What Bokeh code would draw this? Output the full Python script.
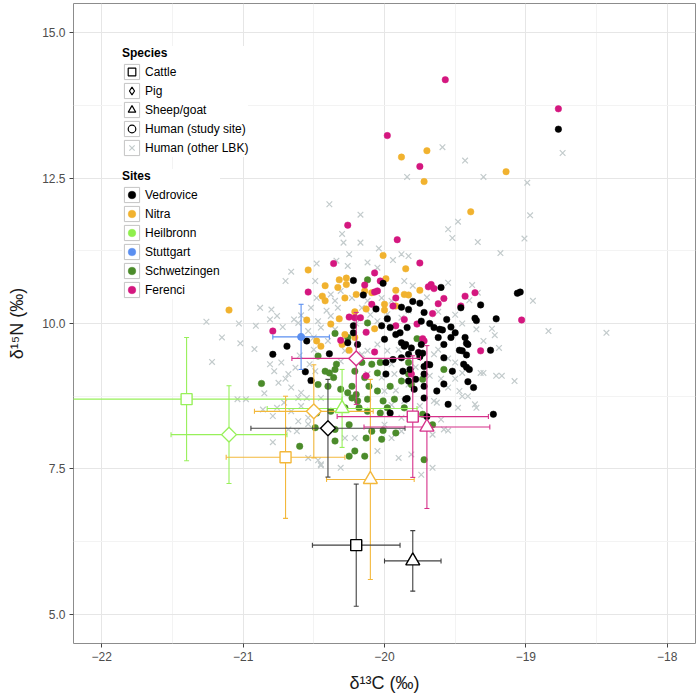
import numpy as np
from bokeh.plotting import figure
from bokeh.models import ColumnDataSource, FixedTicker, Legend, LegendItem, Range1d, NumeralTickFormatter
from bokeh.embed import file_html
from bokeh.resources import INLINE

# ---------------- data ----------------
VED_X = [-18.77, -19.60, -19.06, -19.04, -19.32, -19.46, -19.75, -19.80, -19.88, -19.21, -19.36, -19.35, -19.56,
         -19.72, -19.74, -19.68, -19.65, -19.61, -19.59, -19.53, -19.50, -19.58, -19.43, -19.42, -19.25, -19.47,
         -19.45, -19.42, -19.58, -19.73, -19.75, -19.44, -19.42, -19.40, -19.52, -19.68, -19.72, -19.72, -19.41,
         -19.37, -19.58, -19.63, -19.72, -19.72, -19.55, -19.23, -19.84, -19.83, -19.53, -20.22, -20.01, -20.15,
         -20.06, -20.22, -20.22, -19.98, -19.96, -20.02, -19.89, -19.84, -20.69, -20.79, -20.55, -20.56, -20.52,
         -20.39, -20.26, -20.19, -20.00, -19.92, -19.88, -19.86, -19.99, -19.94, -19.88, -19.83, -19.99, -19.87,
         -19.82, -19.96, -19.85, -19.81, -19.76, -19.74, -19.70, -19.78, -19.83, -19.79, -19.85, -19.41, -19.70,
         -19.62]
VED_Y = [13.34, 10.62, 10.52, 10.54, 10.32, 10.27, 10.35, 10.38, 10.28, 10.08, 10.09, 10.05, 10.07,
         10.19, 10.04, 10.00, 9.93, 9.90, 9.89, 9.94, 9.84, 9.64, 9.76, 9.66, 9.54, 9.54,
         9.53, 9.46, 9.41, 9.49, 9.43, 9.30, 9.25, 9.21, 9.18, 9.29, 9.26, 9.13, 9.00,
         8.90, 8.96, 8.84, 8.92, 8.72, 8.61, 8.44, 8.71, 10.24, 9.76, 10.74, 10.69, 10.49,
         10.25, 9.96, 9.84, 10.08, 9.93, 9.96, 9.84, 9.93, 9.61, 9.47, 9.70, 9.17, 9.02,
         9.48, 9.67, 9.64, 9.73, 9.81, 9.67, 9.61, 9.33, 9.38, 9.41, 9.47, 9.13, 9.18,
         9.21, 8.46, 9.64, 9.58, 9.50, 9.64, 9.30, 9.04, 9.01, 8.87, 8.70, 9.64, 8.40,
         9.76]

NIT_X = [-19.88, -19.70, -19.72, -19.14, -19.39, -20.01, -19.85, -19.75, -19.83, -19.92, -20.54, -21.10, -20.55,
         -20.32, -20.27, -20.33, -20.27, -20.42, -19.99, -20.44, -20.42, -20.20, -20.14, -20.09, -19.86, -20.28,
         -20.00, -19.92, -20.13, -20.21, -20.00, -20.32, -20.07, -20.28, -20.38, -20.45, -20.48, -20.25, -20.21,
         -20.30]
NIT_Y = [12.86, 12.97, 12.44, 12.61, 11.92, 11.17, 10.94, 10.57, 10.49, 10.57, 10.92, 10.23, 10.06,
         10.75, 10.78, 10.62, 10.67, 10.65, 10.77, 10.47, 10.39, 10.50, 10.56, 10.53, 10.50, 10.44,
         10.33, 10.30, 10.25, 10.20, 10.23, 10.08, 9.91, 9.81, 9.99, 9.61, 9.70, 9.54, 9.76,
         9.64]

FER_X = [-19.57, -18.77, -19.98, -19.75, -19.91, -19.75, -19.69, -19.67, -19.65, -19.36, -19.43, -19.46, -19.58,
         -19.62, -19.92, -19.94, -19.03, -19.66, -19.72, -19.32, -20.26, -20.54, -20.79, -20.36, -20.07, -20.14,
         -20.03, -20.07, -20.05, -20.09, -20.25, -20.21, -20.17, -20.13, -19.92, -19.77, -19.86, -19.73, -20.31,
         -20.07, -20.13, -19.81]
FER_Y = [14.19, 13.69, 13.23, 12.70, 11.44, 11.04, 10.63, 10.67, 10.60, 10.53, 10.47, 10.30, 10.43,
         10.34, 10.44, 10.30, 10.06, 10.17, 9.70, 9.53, 11.69, 10.54, 9.87, 11.03, 10.87, 10.66,
         10.73, 10.54, 10.56, 10.33, 10.11, 10.10, 10.10, 9.85, 9.96, 9.99, 10.07, 9.74, 9.71,
         9.51, 9.10, 9.13]

SCH_X = [-19.58, -20.87, -20.60, -20.12, -20.12, -20.35, -20.26, -19.77, -20.47, -20.42, -20.39, -20.35, -20.36,
         -20.34, -20.21, -20.16, -20.09, -20.03, -20.05, -20.14, -20.23, -20.11, -20.05, -19.96, -19.88, -20.47,
         -20.40, -20.31, -20.26, -20.20, -20.12, -20.01, -19.93, -20.19, -20.23, -20.48, -20.38, -20.28, -20.12,
         -20.03, -20.35, -20.25, -20.49, -20.09, -20.02, -20.13, -20.21, -20.14, -20.25, -20.35, -20.18, -19.98,
         -19.83, -19.83, -19.81, -19.73, -19.86, -19.73, -19.66, -19.72, -19.92, -20.01]
SCH_Y = [9.21, 8.97, 7.89, 10.75, 10.01, 9.83, 9.76, 9.74, 9.44, 9.18, 9.15, 9.21, 9.07,
         9.30, 9.18, 9.33, 9.30, 9.33, 9.15, 9.07, 8.92, 8.92, 8.84, 8.92, 9.01, 8.95,
         8.92, 8.87, 8.81, 8.78, 8.70, 8.67, 8.70, 8.67, 8.72, 8.46, 8.49, 8.55, 8.49,
         8.46, 8.18, 8.26, 8.21, 8.15, 8.01, 8.03, 7.81, 7.72, 7.72, 7.98, 8.55, 8.55,
         9.33, 9.13, 8.95, 9.04, 8.55, 8.44, 8.26, 7.66, 8.12, 8.16]

LBK_X = [-18.74, -19.59, -19.84, -19.43, -19.30, -18.99, -18.97, -19.48, -19.55, -19.52, -19.34, -19.01, -19.18,
         -19.94, -19.88, -19.83, -19.38, -18.95, -18.84, -18.43, -19.24, -19.22, -19.19, -19.30, -19.21, -19.17,
         -19.08, -19.36, -19.48, -19.45, -19.65, -19.60, -19.55,
         -20.66, -20.70, -20.88, -20.80, -20.81, -20.76, -20.91, -21.03, -21.26, -21.15, -20.72, -20.64, -20.59,
         -20.61, -21.02, -21.22, -20.92, -21.04, -20.98, -20.79, -20.47, -20.45,
         -20.81, -20.78, -20.73, -20.68, -20.63, -20.75, -20.66, -20.59, -20.61, -20.71, -20.79, -20.76, -20.66,
         -20.59, -20.68, -20.62, -20.61, -20.54, -20.86,
         -20.39, -20.17, -20.30, -20.29, -20.17, -20.25, -20.04, -20.48, -20.34, -20.26, -20.12, -20.05,
         -20.49, -20.48, -20.38, -20.35, -20.52, -20.41, -20.33, -20.47, -20.38, -20.45, -20.12, -20.02, -19.95,
         -19.86, -19.83, -19.98, -20.05, -19.88, -20.54, -20.50, -20.23, -20.16, -20.31, -19.34,
         -20.52, -20.55, -20.54, -20.45, -20.28, -20.21, -19.95, -19.88, -20.05, -19.90, -20.45, -20.31, -20.54,
         -20.00, -19.88, -19.86, -19.95, -19.83, -20.00, -20.53, -20.49, -20.02, -20.28, -20.16, -20.12, -20.05,
         -19.98, -20.12, -20.31, -19.93,
         -19.65, -19.50, -19.32, -19.47, -19.41, -19.35, -19.63, -19.66, -19.58, -19.81, -19.66, -19.74,
         -19.62, -19.55, -19.68, -19.60, -19.50, -19.45, -19.55, -19.90, -19.78, -19.92, -19.75, -19.95, -19.62,
         -19.50, -19.45, -19.70, -19.80, -19.55, -19.40, -19.35, -19.30, -20.20, -20.10, -20.35, -20.40, -20.60,
         -20.50, -20.70, -20.85]
LBK_Y = [12.93, 13.03, 12.52, 12.80, 12.52, 12.42, 11.86, 11.75, 11.62, 11.47, 11.40, 11.46, 11.21,
         11.09, 11.19, 11.16, 10.66, 10.39, 9.87, 9.84, 9.91, 9.80, 9.58, 9.15, 9.10, 9.10,
         9.01, 8.61, 8.55, 8.75, 8.67, 8.35, 8.16,
         10.89, 10.73, 10.27, 10.24, 10.07, 10.13, 9.96, 10.00, 10.03, 9.76, 9.94, 10.07, 10.14,
         10.01, 9.66, 9.34, 9.56, 8.70, 8.70, 7.96, 7.65, 7.56,
         9.30, 9.18, 9.33, 9.13, 9.24, 8.98, 8.90, 8.81, 8.72, 8.64, 8.41, 8.55, 8.49,
         8.58, 8.18, 8.15, 8.32, 8.27, 8.52,
         12.05, 11.87, 11.54, 11.39, 11.39, 11.19, 11.29, 11.03, 11.08, 10.99, 11.05, 10.96,
         10.73, 10.44, 10.50, 10.39, 10.27, 10.22, 10.27, 10.04, 10.13, 9.93, 10.39, 10.44, 10.39,
         10.73, 10.22, 10.16, 10.04, 10.10, 9.87, 9.76, 10.44, 10.27, 10.56, 10.53,
         9.01, 8.72, 8.38, 8.72, 8.03, 8.03, 8.03, 8.15, 7.81, 7.69, 7.58, 7.52, 7.69,
         8.26, 8.38, 8.67, 9.30, 8.95, 8.84, 9.30, 9.18, 9.07, 9.53, 9.47, 9.53, 9.64,
         9.53, 9.13, 9.35, 9.13,
         9.47, 9.33, 9.15, 8.84, 8.75, 8.55, 8.64, 8.09, 8.18, 7.75, 7.52, 7.40,
         9.55, 9.40, 9.10, 9.05, 9.05, 9.15, 8.90, 9.55, 9.25, 8.85, 8.58, 8.60, 10.20,
         10.15, 10.00, 10.45, 10.65, 10.70, 10.40, 9.90, 9.70, 10.00, 10.15, 9.90, 9.70, 9.45,
         9.55, 9.05, 8.80]

# animal means (mean +/- sd) per site and species
AM_SITE = ["Heilbronn", "Heilbronn", "Heilbronn", "Nitra", "Nitra", "Nitra",
           "Vedrovice", "Vedrovice", "Vedrovice", "Ferenci", "Ferenci", "Ferenci"]
AM_SPECIES = ["Cattle", "Pig", "Sheep/goat"] * 4
AM_X = [-21.40, -21.10, -20.30, -20.70, -20.50, -20.10, -20.20, -20.40, -19.80, -19.80, -20.20, -19.70]
AM_Y = [8.70, 8.09, 8.54, 7.70, 8.49, 7.32, 6.19, 8.20, 5.92, 8.40, 9.40, 8.22]
AM_XSD = [1.10, 0.41, 0.53, 0.42, 0.42, 0.31, 0.31, 0.545, 0.20, 0.535, 0.455, 0.445]
AM_YSD = [1.06, 0.84, 0.67, 1.05, 0.80, 1.72, 1.05, 0.84, 0.52, 1.045, 0.79, 1.40]

# Stuttgart human mean
STU_X = [-20.59]
STU_Y = [9.77]
STU_XSD = [0.20]
STU_YSD = [0.56]

SITES = ["Vedrovice", "Nitra", "Heilbronn", "Stuttgart", "Schwetzingen", "Ferenci"]
SITE_COLORS = {"Vedrovice": "#000000", "Nitra": "#F1B22F", "Heilbronn": "#8FEF4C",
               "Stuttgart": "#5B8FF0", "Schwetzingen": "#4B8B2A", "Ferenci": "#D4177F"}
BAR_COLORS = {"Vedrovice": "#404040", "Nitra": "#F3B83C", "Heilbronn": "#97F05A",
              "Stuttgart": "#5B8FF0", "Schwetzingen": "#4B8B2A", "Ferenci": "#D6308A"}
SPECIES_MARKERS = {"Cattle": "square", "Pig": "square", "Sheep/goat": "triangle"}
SPECIES_ANGLES = {"Cattle": 0.0, "Pig": np.pi / 4, "Sheep/goat": 0.0}
SPECIES_SIZES = {"Cattle": 11, "Pig": 10.5, "Sheep/goat": 14}
GREY = "#C3CBCC"
FONT = "Liberation Sans"

# ---------------- figure ----------------
p = figure(width=700, height=697, output_backend="svg", toolbar_location=None,
           x_range=Range1d(-22.2, -17.8), y_range=Range1d(4.5, 15.5),
           min_border_left=73, min_border_right=5, min_border_top=3, min_border_bottom=54)
p.background_fill_color = "white"
p.border_fill_color = "white"
p.outline_line_color = "#8c8c8c"
p.outline_line_width = 1

p.xaxis.ticker = FixedTicker(ticks=[-22, -21, -20, -19, -18], minor_ticks=[-21.5, -20.5, -19.5, -18.5])
p.yaxis.ticker = FixedTicker(ticks=[5, 7.5, 10, 12.5, 15], minor_ticks=[6.25, 8.75, 11.25, 13.75])
p.xaxis.major_label_overrides = {-22: "\u221222", -21: "\u221221", -20: "\u221220", -19: "\u221219", -18: "\u221218"}
p.yaxis.formatter = NumeralTickFormatter(format="0.0")
for g in (p.xgrid, p.ygrid):
    g.grid_line_color = "#e6e6e6"
    g.grid_line_width = 1
    g.minor_grid_line_color = "#f3f3f3"
    g.minor_grid_line_width = 1

p.axis.axis_line_color = None
p.axis.major_tick_line_color = "#444444"
p.axis.major_tick_out = 4
p.axis.major_tick_in = 0
p.axis.minor_tick_line_color = None
p.axis.major_label_text_font = FONT
p.axis.major_label_text_font_size = "12px"
p.axis.major_label_text_color = "#4d4d4d"
p.axis.major_label_standoff = 4
p.axis.axis_label_text_font = FONT
p.axis.axis_label_text_font_size = "18px"
p.axis.axis_label_text_font_style = "normal"
p.axis.axis_label_text_color = "#1a1a1a"
p.xaxis.axis_label = "\u03b4\u00b9\u00b3C (\u2030)"
p.yaxis.axis_label = "\u03b4\u00b9\u2075N (\u2030)"
p.xaxis.axis_label_standoff = 9
p.yaxis.axis_label_standoff = 12

# other LBK humans
p.scatter(LBK_X, LBK_Y, marker="x", size=8, line_color=GREY, line_width=1.2)

# study-site humans
site_data = {"Vedrovice": (VED_X, VED_Y), "Nitra": (NIT_X, NIT_Y),
             "Schwetzingen": (SCH_X, SCH_Y), "Ferenci": (FER_X, FER_Y)}
for s in ["Schwetzingen", "Nitra", "Ferenci", "Vedrovice"]:
    xs, ys = site_data[s]
    p.scatter(xs, ys, marker="circle", size=6.5, fill_color=SITE_COLORS[s], line_color=SITE_COLORS[s], line_width=0.5)

# error bars
def error_bars(xs, ys, xsd, ysd, color):
    xs = np.array(xs); ys = np.array(ys); xsd = np.array(xsd); ysd = np.array(ysd)
    p.segment(xs, ys - ysd, xs, ys + ysd, line_color=color, line_width=1.1)
    p.segment(xs - xsd, ys, xs + xsd, ys, line_color=color, line_width=1.1)
    p.scatter(np.concatenate([xs, xs]), np.concatenate([ys - ysd, ys + ysd]), marker="dash", size=5,
              line_color=color, line_width=1.1)
    p.scatter(np.concatenate([xs - xsd, xs + xsd]), np.concatenate([ys, ys]), marker="dash", size=5,
              angle=np.pi / 2, line_color=color, line_width=1.1)

for s in ["Heilbronn", "Nitra", "Vedrovice", "Ferenci"]:
    idx = [i for i, v in enumerate(AM_SITE) if v == s]
    error_bars([AM_X[i] for i in idx], [AM_Y[i] for i in idx], [AM_XSD[i] for i in idx],
               [AM_YSD[i] for i in idx], BAR_COLORS[s])
error_bars(STU_X, STU_Y, STU_XSD, STU_YSD, BAR_COLORS["Stuttgart"])

# animal means markers
for i in range(len(AM_X)):
    sp = AM_SPECIES[i]
    col = "#000000" if AM_SITE[i] == "Vedrovice" else BAR_COLORS[AM_SITE[i]]
    p.scatter([AM_X[i]], [AM_Y[i]], marker=SPECIES_MARKERS[sp], size=SPECIES_SIZES[sp],
              angle=SPECIES_ANGLES[sp], fill_color="white", line_color=col, line_width=1.4)

p.scatter(STU_X, STU_Y, marker="circle", size=7, fill_color=SITE_COLORS["Stuttgart"],
          line_color=SITE_COLORS["Stuttgart"])

# ---------------- legends ----------------
NAN = np.array([np.nan, np.nan, np.nan])
box_r = p.patch(x=NAN, y=NAN, fill_color="white", fill_alpha=1.0, line_color="#c4c4c4", line_width=1)

def key(marker, fill, line, lw=1.2):
    return p.scatter(NAN[:1], NAN[:1], marker=marker, size=8, fill_color=fill, line_color=line, line_width=lw)

species_items = [
    LegendItem(label="Cattle", renderers=[box_r, key("square", "white", "#000000")]),
    LegendItem(label="Pig", renderers=[box_r, key("diamond", "white", "#000000")]),
    LegendItem(label="Sheep/goat", renderers=[box_r, key("triangle", "white", "#000000")]),
    LegendItem(label="Human (study site)", renderers=[box_r, key("circle", "white", "#000000")]),
    LegendItem(label="Human (other LBK)", renderers=[box_r, key("x", None, GREY)]),
]
site_items = [LegendItem(label=s, renderers=[box_r, key("circle", SITE_COLORS[s], SITE_COLORS[s], 0.5)])
              for s in SITES]

def style_legend(leg):
    leg.title_text_font = FONT
    leg.title_text_font_style = "bold"
    leg.title_text_font_size = "12px"
    leg.title_text_color = "#000000"
    leg.title_standoff = 2
    leg.label_text_font = FONT
    leg.label_text_font_size = "12px"
    leg.label_text_color = "#000000"
    leg.label_text_baseline = "middle"
    leg.glyph_width = 19
    leg.glyph_height = 19
    leg.label_height = 19
    leg.label_standoff = 4
    leg.spacing = 0
    leg.padding = 3
    leg.margin = 0
    leg.border_line_color = None
    leg.background_fill_color = "white"
    leg.background_fill_alpha = 1.0
    leg.click_policy = "none"

leg1 = Legend(title="Species", items=species_items, location=(49, 486))
leg2 = Legend(title="Sites", items=site_items, location=(49, 344))
style_legend(leg1)
style_legend(leg2)
p.add_layout(leg1)
p.add_layout(leg2)

open("out.html", "w").write(file_html(p, INLINE))
